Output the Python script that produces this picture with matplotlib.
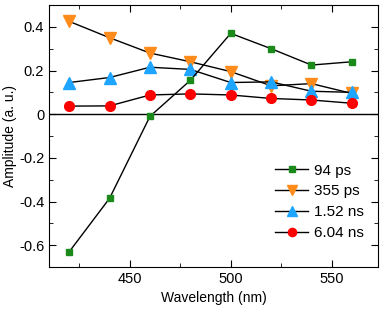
import matplotlib
matplotlib.use('Agg')
import matplotlib.pyplot as plt
from matplotlib.ticker import MultipleLocator

wl = [420, 440, 460, 480, 500, 520, 540, 560]
a_94ps = [-0.63, -0.385, -0.01, 0.155, 0.37, 0.30, 0.225, 0.24]
a_355ps = [0.425, 0.35, 0.28, 0.24, 0.195, 0.13, 0.14, 0.095]
a_152ns = [0.145, 0.168, 0.215, 0.205, 0.145, 0.148, 0.105, 0.10]
a_604ns = [0.037, 0.038, 0.088, 0.093, 0.088, 0.072, 0.065, 0.05]
labels = ['94 ps', '355 ps', '1.52 ns', '6.04 ns']

plt.rcParams['font.family'] = ['Liberation Sans', 'DejaVu Sans']
plt.rcParams['font.size'] = 10

fig = plt.figure(figsize=(3.8, 3.12), dpi=100)
ax = fig.add_axes([0.129, 0.144, 0.866, 0.840])

ax.axhline(0, color='black', lw=1.0, zorder=1)
ax.plot(wl, a_94ps, '-s', color='black', mfc='#1a8a1a', mec='#1a8a1a', ms=5, lw=1, label=labels[0], zorder=3)
ax.plot(wl, a_355ps, '-v', color='black', mfc='#ff8c1a', mec='#ff8c1a', ms=8, lw=1, label=labels[1], zorder=2)
ax.plot(wl, a_152ns, '-^', color='black', mfc='#1ea5ff', mec='#1ea5ff', ms=8, lw=1, label=labels[2], zorder=2)
ax.plot(wl, a_604ns, '-o', color='black', mfc='#ff0000', mec='#ff0000', ms=7, lw=1, label=labels[3], zorder=2)

ax.set_xlim(410, 573)
ax.set_ylim(-0.7, 0.5)
ax.xaxis.set_major_locator(MultipleLocator(50))
ax.xaxis.set_minor_locator(MultipleLocator(25))
ax.yaxis.set_major_locator(MultipleLocator(0.2))
ax.yaxis.set_minor_locator(MultipleLocator(0.1))
ax.yaxis.set_major_formatter(plt.FuncFormatter(lambda v, p: '0' if abs(v) < 1e-9 else '%.1f' % v))
ax.tick_params(which='both', direction='in', top=True, right=True, labelsize=10.5)
ax.tick_params(which='major', length=5)
ax.tick_params(which='minor', length=3)
ax.set_xlabel('Wavelength (nm)')
ax.set_ylabel('Amplitude (a. u.)')
ax.yaxis.set_label_coords(-0.098, 0.5)

ax.legend(loc='lower right', frameon=False, fontsize=11, handlelength=2.2,
          labelspacing=0.45, markerscale=0.85, handletextpad=0.4,
          bbox_to_anchor=(1.0, 0.05))

fig.savefig('out.png', dpi=100)
